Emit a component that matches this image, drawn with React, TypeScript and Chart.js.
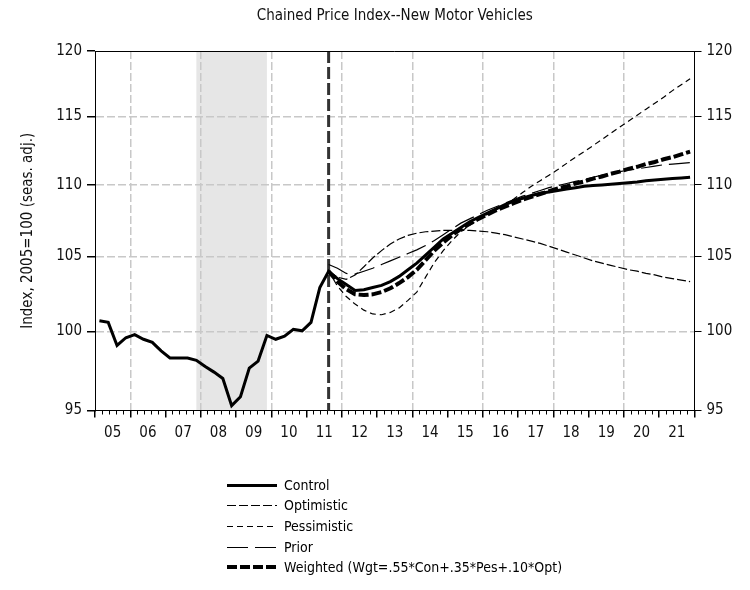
import React, { useEffect, useRef } from 'react';
import { Chart, registerables } from 'chart.js';

Chart.register(...registerables);

const FONT = "'Liberation Sans Narrow', 'Arial Narrow', 'DejaVu Sans Condensed', 'Liberation Sans', sans-serif";

const chartTitle = 'Chained Price Index--New Motor Vehicles';
const yAxisTitle = 'Index, 2005=100 (seas. adj.)';
const yTicks = [95, 100, 105, 110, 115, 120];
const yearLabels = ['05', '06', '07', '08', '09', '10', '11', '12', '13', '14', '15', '16', '17', '18', '19', '20', '21'];
const firstYear = 2005;
const lastYear = 2022;
const historyStart = '2005Q1';
const forecastStart = '2011Q3';
const recessionStart = '2007Q4';
const recessionEnd = '2009Q4';

const history = [100.7, 100.6, 99.1, 99.6, 99.8, 99.5, 99.3, 98.75, 98.3, 98.3, 98.3, 98.15, 97.75, 97.4, 97.0, 95.3, 95.85, 97.65, 98.1, 99.75, 99.5, 99.7, 100.15, 100.05, 100.6, 102.9, 104.0];

const controlForecast = [104.0, 103.5, 103.1, 102.7, 102.75, 102.9, 103.05, 103.3, 103.65, 104.1, 104.55, 105.1, 105.65, 106.2, 106.6, 107.0, 107.4, 107.7, 108.0, 108.3, 108.6, 108.85, 109.05, 109.25, 109.4, 109.5, 109.6, 109.7, 109.8, 109.9, 109.95, 110.0, 110.05, 110.1, 110.15, 110.2, 110.3, 110.35, 110.4, 110.45, 110.5, 110.55];
const optimistic = [104.0, 103.6, 103.45, 103.75, 104.3, 104.9, 105.4, 105.85, 106.2, 106.45, 106.6, 106.7, 106.75, 106.8, 106.8, 106.8, 106.8, 106.75, 106.7, 106.6, 106.5, 106.35, 106.2, 106.05, 105.9, 105.7, 105.5, 105.3, 105.1, 104.9, 104.7, 104.55, 104.4, 104.25, 104.1, 104.0, 103.85, 103.75, 103.6, 103.5, 103.4, 103.3];
const pessimistic = [104.0, 103.0, 102.3, 101.8, 101.4, 101.15, 101.1, 101.25, 101.55, 102.05, 102.6, 103.6, 104.6, 105.4, 106.1, 106.7, 107.15, 107.55, 107.9, 108.25, 108.6, 109.0, 109.45, 109.9, 110.3, 110.7, 111.1, 111.55, 112.0, 112.4, 112.85, 113.3, 113.75, 114.2, 114.65, 115.1, 115.55, 116.0, 116.45, 116.95, 117.4, 117.85];
const prior = [104.45, 104.2, 103.85, 103.8, 104.0, 104.2, 104.45, 104.7, 104.95, 105.2, 105.45, 105.75, 106.1, 106.5, 106.9, 107.3, 107.6, 107.9, 108.2, 108.45, 108.7, 108.95, 109.2, 109.4, 109.6, 109.8, 109.95, 110.1, 110.25, 110.4, 110.55, 110.7, 110.8, 110.95, 111.05, 111.15, 111.25, 111.35, 111.45, 111.5, 111.55, 111.6];
const weighted = [104.0, 103.3, 102.8, 102.45, 102.4, 102.45, 102.6, 102.85, 103.2, 103.6, 104.1, 104.75, 105.4, 105.95, 106.45, 106.9, 107.25, 107.6, 107.9, 108.2, 108.45, 108.7, 108.95, 109.15, 109.35, 109.55, 109.75, 109.9, 110.1, 110.25, 110.45, 110.6, 110.8, 110.95, 111.15, 111.3, 111.5, 111.65, 111.85, 112.0, 112.2, 112.4];

// quarter label -> decimal year at mid-quarter
function quarterPos(q: string): number {
  const [y, n] = q.split('Q');
  return Number(y) + (Number(n) - 0.5) / 4;
}
function quarterLabels(start: string, count: number): string[] {
  const [y, n] = start.split('Q');
  let yr = Number(y);
  let qq = Number(n);
  const out: string[] = [];
  for (let i = 0; i < count; i++) {
    out.push(`${yr}Q${qq}`);
    qq++;
    if (qq > 4) { qq = 1; yr++; }
  }
  return out;
}

const histQuarters = quarterLabels(historyStart, history.length);
const fcQuarters = quarterLabels(forecastStart, controlForecast.length);

const toPoints = (qs: string[], vals: number[]) => vals.map((v, i) => ({ x: quarterPos(qs[i]), y: v }));

const shadePlugin = {
  id: 'shadeAndMarker',
  beforeDraw(chart: any) {
    const { ctx, chartArea, scales } = chart;
    const x1 = scales.x.getPixelForValue(quarterPos(recessionStart));
    const x2 = scales.x.getPixelForValue(quarterPos(recessionEnd));
    ctx.save();
    ctx.fillStyle = '#e6e6e6';
    ctx.fillRect(x1, chartArea.top, x2 - x1, chartArea.bottom - chartArea.top);
    ctx.restore();
  },
  beforeDatasetsDraw(chart: any) {
    const { ctx, chartArea, scales } = chart;
    const xf = scales.x.getPixelForValue(quarterPos(forecastStart));
    ctx.save();
    ctx.strokeStyle = '#333333';
    ctx.lineWidth = 3;
    ctx.setLineDash([12, 4]);
    ctx.beginPath();
    ctx.moveTo(xf, chartArea.top);
    ctx.lineTo(xf, chartArea.bottom);
    ctx.stroke();
    ctx.restore();
  },
  afterDraw(chart: any) {
    const { ctx, chartArea } = chart;
    ctx.save();
    ctx.strokeStyle = '#000';
    ctx.lineWidth = 1;
    ctx.beginPath();
    ctx.moveTo(chartArea.left, chartArea.top + 0.5);
    ctx.lineTo(chartArea.right, chartArea.top + 0.5);
    ctx.stroke();
    // legend
    ctx.font = `14px ${FONT}`;
    const items = chart.data.datasets;
    const widths = items.map((d: any) => ctx.measureText(d.label).width);
    const lineLen = 50;
    const gap = 7;
    const blockW = lineLen + gap + Math.max(...widths);
    const x0 = Math.round((chartArea.left + chartArea.right) / 2 - blockW / 2);
    const y0 = chartArea.bottom + 74;
    const dy = 20.7;
    items.forEach((d: any, i: number) => {
      const y = Math.round(y0 + i * dy);
      const w = Math.round(d.borderWidth);
      const ly = w % 2 === 1 ? y + 0.5 : y;
      ctx.beginPath();
      ctx.setLineDash(d.borderDash || []);
      ctx.lineWidth = w;
      ctx.strokeStyle = d.borderColor;
      ctx.moveTo(x0, ly);
      ctx.lineTo(x0 + lineLen, ly);
      ctx.stroke();
      ctx.setLineDash([]);
      ctx.fillStyle = '#000';
      ctx.textBaseline = 'middle';
      ctx.textAlign = 'left';
      ctx.fillText(d.label, x0 + lineLen + gap, y + 1);
    });
    ctx.restore();
  },
};

export default function App() {
  const ref = useRef<HTMLCanvasElement | null>(null);

  useEffect(() => {
    if (!ref.current) return;
    const controlPoints = [
      ...toPoints(histQuarters, history),
      ...toPoints(fcQuarters, controlForecast).slice(1),
    ];
    const common = { pointRadius: 0, fill: false, tension: 0, borderColor: '#000' };
    const tickFont = { family: FONT, size: 15 };
    const chart = new Chart(ref.current, {
      type: 'line',
      data: {
        datasets: [
          { ...common, label: 'Control', data: controlPoints, borderWidth: 3, borderDash: [] },
          { ...common, label: 'Optimistic', data: toPoints(fcQuarters, optimistic), borderWidth: 1.2, borderDash: [9, 3] },
          { ...common, label: 'Pessimistic', data: toPoints(fcQuarters, pessimistic), borderWidth: 1.2, borderDash: [6, 4] },
          { ...common, label: 'Prior', data: toPoints(fcQuarters, prior), borderWidth: 1.2, borderDash: [21, 7] },
          { ...common, label: 'Weighted (Wgt=.55*Con+.35*Pes+.10*Opt)', data: toPoints(fcQuarters, weighted), borderWidth: 4, borderDash: [10, 3] },
        ] as any,
      },
      options: {
        animation: false,
        responsive: false,
        devicePixelRatio: 1,
        layout: { padding: { left: 0, right: 0, top: 0, bottom: 139.5 } },
        plugins: {
          legend: { display: false },
          tooltip: { enabled: false },
          title: {
            display: true,
            text: chartTitle,
            fullSize: false,
            color: '#111',
            font: { family: FONT, size: 15, weight: 'normal' },
            padding: { top: 7, bottom: 26 },
          },
        },
        scales: {
          x: {
            type: 'linear',
            position: 'bottom',
            min: firstYear,
            max: lastYear,
            afterBuildTicks: (axis: any) => {
              const t = [];
              for (let y = firstYear; y <= lastYear; y++) t.push({ value: y });
              axis.ticks = t;
            },
            afterFit: (axis: any) => { axis.height = 0; },
            ticks: { display: false },
            grid: {
              drawOnChartArea: true,
              drawTicks: true,
              tickLength: 7,
              tickColor: '#000',
              tickBorderDash: [],
              lineWidth: 1.5,
              color: (ctx: any) => {
                const v = ctx.tick && ctx.tick.value;
                return v > firstYear && v < lastYear && v % 2 === 0 ? '#c8c8c8' : 'rgba(0,0,0,0)';
              },
            },
            border: { display: true, color: '#000', width: 1, dash: [8, 3] },
          },
          xMinor: {
            type: 'linear',
            position: 'bottom',
            min: firstYear,
            max: lastYear,
            afterBuildTicks: (axis: any) => {
              const t = [];
              for (let y = firstYear; y < lastYear; y++) {
                for (let k = 1; k < 5; k++) t.push({ value: y + k / 5 });
              }
              axis.ticks = t;
            },
            afterFit: (axis: any) => { axis.height = 0; },
            ticks: { display: false },
            grid: { drawOnChartArea: false, drawTicks: true, tickLength: 4, tickColor: '#000', tickBorderDash: [] },
            border: { display: false },
          },
          xLabels: {
            type: 'linear',
            position: 'bottom',
            min: firstYear,
            max: lastYear,
            afterBuildTicks: (axis: any) => {
              axis.ticks = yearLabels.map((_, i) => ({ value: firstYear + i + 0.5 }));
            },
            afterFit: (axis: any) => { axis.height = 40; },
            ticks: {
              autoSkip: false,
              maxRotation: 0,
              padding: 14,
              color: '#111',
              font: tickFont,
              callback: (_v: any, i: number) => yearLabels[i],
            },
            grid: { display: false, drawTicks: false },
            border: { display: false },
          },
          y: {
            type: 'logarithmic',
            position: 'left',
            min: yTicks[0],
            max: yTicks[yTicks.length - 1],
            afterBuildTicks: (axis: any) => { axis.ticks = yTicks.map((v) => ({ value: v })); },
            afterFit: (axis: any) => { axis.width = 95; },
            ticks: {
              padding: 5,
              color: '#111',
              font: tickFont,
              callback: (v: any) => String(v),
            },
            title: {
              display: true,
              text: yAxisTitle,
              color: '#111',
              font: { family: FONT, size: 15 },
              padding: { top: 19, bottom: 0 },
            },
            grid: {
              drawTicks: true,
              tickLength: 8,
              tickColor: '#000',
              tickBorderDash: [],
              lineWidth: 1.5,
              color: (ctx: any) => {
                const v = ctx.tick && ctx.tick.value;
                return v === yTicks[0] || v === yTicks[yTicks.length - 1] ? 'rgba(0,0,0,0)' : '#c8c8c8';
              },
            },
            border: { display: true, color: '#000', width: 1, dash: [8, 3] },
          },
          y2: {
            type: 'logarithmic',
            position: 'right',
            min: yTicks[0],
            max: yTicks[yTicks.length - 1],
            afterBuildTicks: (axis: any) => { axis.ticks = yTicks.map((v) => ({ value: v })); },
            afterFit: (axis: any) => { axis.width = 55.5; },
            ticks: {
              padding: 5,
              color: '#111',
              font: tickFont,
              callback: (v: any) => String(v),
            },
            grid: { drawOnChartArea: false, drawTicks: true, tickLength: 7, tickColor: '#000', tickBorderDash: [] },
            border: { display: true, color: '#000', width: 1 },
          },
        },
      } as any,
      plugins: [shadePlugin],
    });
    return () => chart.destroy();
  }, []);

  return (
    <div style={{ position: 'fixed', left: 0, top: 0, width: 750, height: 590, background: '#fff' }}>
      <canvas ref={ref} width={750} height={590} style={{ display: 'block', width: 750, height: 590 }} />
    </div>
  );
}
